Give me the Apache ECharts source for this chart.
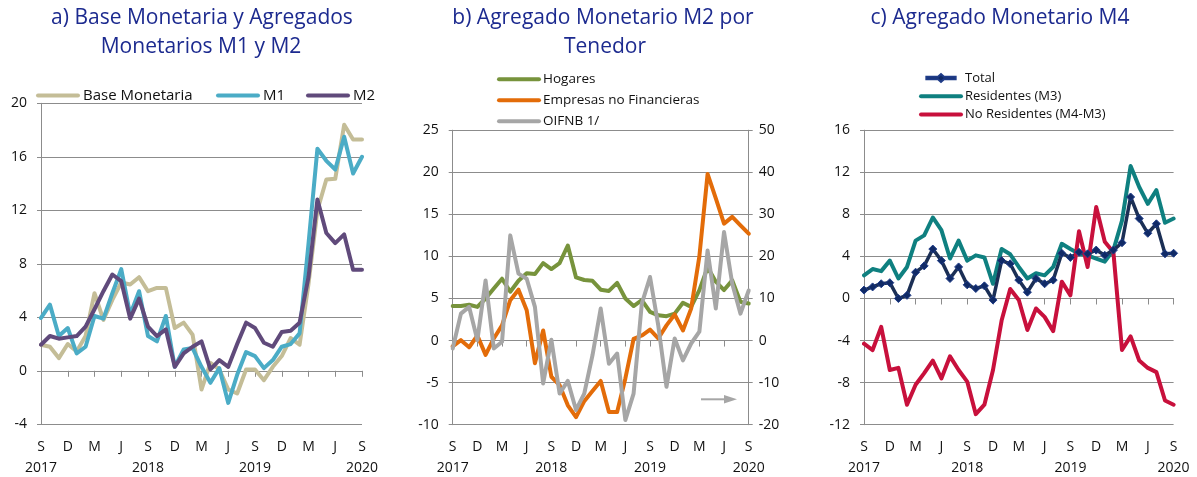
<!DOCTYPE html>
<html><head><meta charset="utf-8">
<script src="https://cdn.jsdelivr.net/npm/echarts@6/dist/echarts.min.js"></script>
<style>html,body{margin:0;padding:0;background:#fff}#c{width:1197px;height:477px}</style>
</head><body><div id="c"></div>
<script>
const categories = ['Sep 2017','Oct 2017','Nov 2017','Dec 2017','Jan 2018','Feb 2018','Mar 2018','Apr 2018','May 2018','Jun 2018','Jul 2018','Aug 2018','Sep 2018','Oct 2018','Nov 2018','Dec 2018','Jan 2019','Feb 2019','Mar 2019','Apr 2019','May 2019','Jun 2019','Jul 2019','Aug 2019','Sep 2019','Oct 2019','Nov 2019','Dec 2019','Jan 2020','Feb 2020','Mar 2020','Apr 2020','May 2020','Jun 2020','Jul 2020','Aug 2020','Sep 2020'];
const monthTickLabels = ['S','D','M','J','S','D','M','J','S','D','M','J','S'];
const yearTickLabels = ['2017','2018','2019','2020'];

// Panel a
const baseMonetaria = [1.95,1.8,0.95,2.0,1.45,2.6,5.8,3.8,5.3,6.6,6.45,7.0,5.95,6.2,6.2,3.2,3.6,2.7,-1.4,0.6,0.1,-1.4,-1.7,0.1,0.1,-0.7,0.3,1.1,2.45,1.95,6.5,12.0,14.3,14.35,18.4,17.3,17.3];
const m1 = [3.95,4.95,2.6,3.2,1.3,1.8,4.1,3.9,5.8,7.6,4.2,5.95,2.6,2.2,4.1,0.3,1.6,1.7,0.3,-0.9,0.2,-2.4,-0.3,1.4,1.1,0.2,0.8,1.8,2.0,2.8,9.5,16.6,15.7,15.05,17.5,14.75,16.0];
const m2 = [1.95,2.6,2.4,2.5,2.6,3.3,4.6,5.95,7.2,6.7,3.9,5.4,3.3,2.6,3.1,0.3,1.3,1.8,2.2,0.1,0.8,0.3,2.0,3.6,3.2,2.1,1.8,2.9,3.0,3.6,7.0,12.8,10.3,9.55,10.2,7.55,7.55];

// Panel b
const hogares = [4.1,4.1,4.25,4.0,5.0,6.2,7.35,5.8,7.1,8.0,7.9,9.2,8.5,9.2,11.3,7.5,7.2,7.1,6.05,5.9,6.85,5.0,4.1,4.8,3.4,3.0,2.9,3.2,4.5,4.0,6.0,8.7,7.0,6.0,7.15,4.6,4.4];
const empresas = [-0.7,0.05,-0.8,0.6,-1.7,0.25,1.8,4.8,6.05,3.6,-2.7,1.2,-4.3,-5.3,-7.7,-9.1,-7.2,-6.0,-4.8,-8.5,-8.5,-4.5,0.2,0.6,1.3,0.25,1.8,3.1,1.2,3.8,10.0,19.8,16.9,13.9,14.7,13.7,12.7];
const oifnb = [-1.9,6.4,8.0,0.1,14.3,-1.9,-0.3,25.0,15.9,14.7,8.0,-10.2,0.2,-12.6,-9.6,-16.5,-12.6,-3.5,7.6,-5.5,-3.1,-18.9,-12.6,8.8,15.1,3.6,-11.0,0.5,-4.7,-0.7,2.1,21.4,7.6,25.8,13.5,6.4,11.9];

// Panel c
const total = [0.8,1.1,1.4,1.5,0.0,0.3,2.5,3.1,4.7,3.6,1.9,3.0,1.3,0.95,1.2,-0.15,3.6,3.3,1.75,0.6,1.9,1.4,1.75,4.3,3.9,4.4,4.25,4.6,4.1,4.6,5.3,9.65,7.6,6.2,7.1,4.25,4.3];
const residentes = [2.2,2.8,2.6,3.6,1.9,3.0,5.5,6.0,7.7,6.5,3.8,5.5,3.6,4.1,3.9,1.4,4.7,4.2,3.0,1.9,2.4,2.2,3.0,5.2,4.7,4.25,4.1,3.8,3.5,4.6,7.4,12.6,10.6,9.0,10.3,7.2,7.6];
const noResidentes = [-4.3,-4.9,-2.7,-6.8,-6.6,-10.1,-8.2,-7.1,-5.9,-7.6,-5.5,-6.8,-7.9,-11.0,-10.1,-6.8,-2.1,0.9,-0.15,-3.0,-0.95,-1.75,-3.1,1.6,0.3,6.4,3.0,8.7,5.4,4.4,-4.9,-3.6,-5.9,-6.6,-7.0,-9.7,-10.1];

const FONT = '"Open Sans","Noto Sans",sans-serif';
const GRIDC = '#8c8c8c';
const TXT = '#111';
const TITLEC = '#1c2a8f';
const CAPSULE = 'path://M2,0 L42,0 A2,2 0 0 1 42,4 L2,4 A2,2 0 0 1 2,0 Z';
const LINE_DIAMOND = 'path://M0,2.2 L17.5,2.2 L22,-2 L26.5,2.2 L44,2.2 L44,5.8 L26.5,5.8 L22,10 L17.5,5.8 L0,5.8 Z';

function xLabelFmt(v, idx) {
  if (idx % 3 !== 0) return '';
  let s = monthTickLabels[idx / 3];
  if (idx % 12 === 0) s += '\n' + yearTickLabels[idx / 12];
  return s;
}
function xAxes(g) {
  return [
    {type:'category', gridIndex:g, data:categories, boundaryGap:false, position:'bottom',
     axisLine:{show:false, onZero:false}, axisTick:{show:false}, splitLine:{show:false},
     axisLabel:{interval:2, formatter:xLabelFmt, margin:12, fontSize:14, lineHeight:21, color:TXT, fontFamily:FONT}},
    {type:'category', gridIndex:g, data:categories, boundaryGap:false, position:'bottom',
     axisLine:{show:true, onZero:true, lineStyle:{color:GRIDC, width:1}},
     axisTick:{show:true, interval:2, length:6, lineStyle:{color:GRIDC}}, axisLabel:{show:false}, splitLine:{show:false}}
  ];
}
function yAxis(g, min, max, step, pos, split, margin) {
  return {type:'value', gridIndex:g, min:min, max:max, interval:step, position:pos,
    axisLine:{show:true, lineStyle:{color:GRIDC, width:1}},
    axisTick:{show:true, length:4, lineStyle:{color:GRIDC}},
    splitLine:{show:split, lineStyle:{color:GRIDC, width:1}},
    axisLabel:{margin:margin, fontSize:14, color:TXT, fontFamily:FONT}};
}
function line(name, data, color, xi, yi, w, extra) {
  return Object.assign({type:'line', name:name, data:data, xAxisIndex:xi, yAxisIndex:yi,
    symbol:'none', smooth:false, animation:false,
    lineStyle:{color:color, width:w, cap:'round', join:'round'}, itemStyle:{color:color}}, extra || {});
}
const legText = (fs, pad) => ({fontSize:fs, lineHeight:14, color:TXT, fontFamily:FONT, padding:[0,0,0,pad]});
const capsules = (names) => names.map(n => ({name:n, icon:CAPSULE}));

const option = {
  animation:false,
  backgroundColor:'#fff',
  grid:[
    {left:41, top:103.3, width:321, height:321, outerBoundsMode:'none'},
    {left:452.7, top:130.2, width:296, height:294.5, outerBoundsMode:'none'},
    {left:864, top:130.2, width:309.6, height:294.5, outerBoundsMode:'none'}
  ],
  xAxis:[].concat(xAxes(0), xAxes(1), xAxes(2)),
  yAxis:[
    yAxis(0, -4, 20, 4, 'left', true, 14),
    yAxis(1, -10, 25, 5, 'left', true, 14),
    yAxis(1, -20, 50, 10, 'right', false, 10),
    yAxis(2, -12, 16, 4, 'left', true, 14)
  ],
  legend:[
    {data:capsules(['Base Monetaria']), left:36, top:88, padding:0, itemWidth:44, itemHeight:4, textStyle:legText(15, -2)},
    {data:capsules(['M1']), left:216, top:88, padding:0, itemWidth:44, itemHeight:4, textStyle:legText(15, -2)},
    {data:capsules(['M2']), left:306, top:88, padding:0, itemWidth:44, itemHeight:4, textStyle:legText(15, -2)},
    {data:capsules(['Hogares','Empresas no Financieras','OIFNB 1/']), orient:'vertical', left:497, top:72.3, padding:0, itemGap:7, itemWidth:44, itemHeight:4, textStyle:legText(13.5, -3)},
    {data:[{name:'Total', icon:LINE_DIAMOND}].concat(capsules(['Residentes (M3)','No Residentes (M4-M3)'])), orient:'vertical', left:919, top:71, padding:0, itemGap:4.3, itemWidth:44, itemHeight:8, textStyle:legText(13, -3)}
  ],
  graphic:[
    {type:'text', x:202, y:18, style:{text:'a) Base Monetaria y Agregados', fill:TITLEC, fontSize:21, fontFamily:FONT, align:'center', verticalAlign:'middle'}},
    {type:'text', x:201, y:47, style:{text:'Monetarios M1 y M2', fill:TITLEC, fontSize:21, fontFamily:FONT, align:'center', verticalAlign:'middle'}},
    {type:'text', x:603, y:18, style:{text:'b) Agregado Monetario M2 por', fill:TITLEC, fontSize:21, fontFamily:FONT, align:'center', verticalAlign:'middle'}},
    {type:'text', x:605, y:47, style:{text:'Tenedor', fill:TITLEC, fontSize:21, fontFamily:FONT, align:'center', verticalAlign:'middle'}},
    {type:'text', x:1000, y:18, style:{text:'c) Agregado Monetario M4', fill:TITLEC, fontSize:21, fontFamily:FONT, align:'center', verticalAlign:'middle'}},
    {type:'line', shape:{x1:701, y1:399.3, x2:730, y2:399.3}, style:{stroke:'#a6a6a6', lineWidth:2}},
    {type:'polygon', shape:{points:[[724,395],[737,399.3],[724,403.6]]}, style:{fill:'#a6a6a6'}}
  ],
  series:[
    line('Base Monetaria', baseMonetaria, '#c4bd97', 0, 0, 4),
    line('M1', m1, '#4bacc6', 0, 0, 4),
    line('M2', m2, '#604a7b', 0, 0, 4),
    line('Hogares', hogares, '#77933c', 2, 1, 4),
    line('Empresas no Financieras', empresas, '#e36c09', 2, 1, 4),
    line('OIFNB 1/', oifnb, '#a6a6a6', 2, 2, 4),
    line('Residentes (M3)', residentes, '#0f8080', 4, 3, 4),
    line('Total', total, '#1b2f55', 4, 3, 3.5, {symbol:'diamond', symbolSize:8, showSymbol:true, showAllSymbol:true,
      itemStyle:{color:'#102a66', borderColor:'#1f3c88', borderWidth:1}}),
    line('No Residentes (M4-M3)', noResidentes, '#c8103c', 4, 3, 4)
  ]
};
const chart = echarts.init(document.getElementById('c'), null, {renderer:'canvas'});
chart.setOption(option);
</script>
</body></html>
